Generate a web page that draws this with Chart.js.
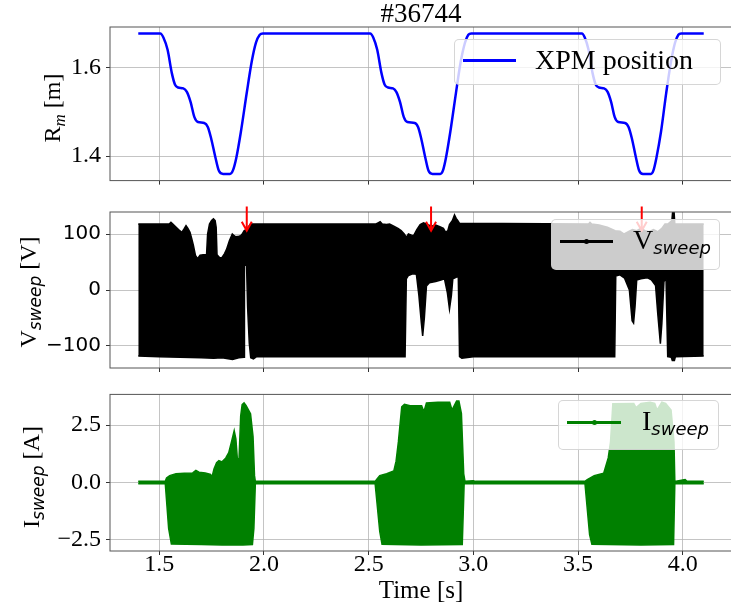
<!DOCTYPE html>
<html>
<head>
<meta charset="utf-8">
<script src="https://cdn.jsdelivr.net/npm/chart.js@4.4.1/dist/chart.umd.min.js"></script>
<style>
  html, body { margin: 0; padding: 0; background: #fff; }
  #fig { position: relative; width: 731px; height: 609px; overflow: hidden; font-family: "Liberation Serif", serif; color: #000; }
  #fig canvas { position: absolute; left: 0; }
  .title { position: absolute; left: 110px; width: 622px; top: 0; text-align: center; font-size: 27px; line-height: 27px; }
  .ylab { position: absolute; white-space: nowrap; font-size: 24px; line-height: 24px; transform: translate(-50%, -50%) rotate(-90deg); }
  .sub { position: relative; top: 5px; font-size: 17px; }
  .sub.it { font-style: italic; }
  .sub.ss { font-family: "DejaVu Sans", sans-serif; font-style: italic; }
  .leg { position: absolute; box-sizing: border-box; background: rgba(255,255,255,0.8); border: 1px solid rgba(204,204,204,0.8); border-radius: 5px; }
  .leg .line { position: absolute; height: 0; }
  .leg .dot { position: absolute; width: 5px; height: 5px; border-radius: 50%; }
  .leg .txt { position: absolute; white-space: nowrap; font-size: 28px; line-height: 28px; }
  .leg .txt .s { position: relative; top: 5px; font-family: "DejaVu Sans", sans-serif; font-style: italic; font-size: 18px; }
</style>
</head>
<body>
<div id="fig">
  <canvas id="c1" width="732" height="200" style="top:0px"></canvas>
  <canvas id="c2" width="732" height="190" style="top:195px"></canvas>
  <canvas id="c3" width="732" height="234" style="top:375px"></canvas>

  <div class="title">#36744</div>

  <div class="ylab" style="left:53px;top:108px">R<span class="sub it">m</span> [m]</div>
  <div class="ylab" style="left:29px;top:292px">V<span class="sub ss">sweep</span> [V]</div>
  <div class="ylab" style="left:32px;top:477px">I<span class="sub ss">sweep</span> [A]</div>

  <div class="leg" style="left:454px;top:39px;width:267px;height:46px">
    <div class="line" style="left:8px;top:19px;width:53px;border-top:3px solid #0000ff"></div>
    <div class="txt" style="left:80px;top:6px">XPM position</div>
  </div>
  <div class="leg" style="left:551px;top:219px;width:169px;height:51px">
    <div class="line" style="left:8px;top:20px;width:53px;border-top:3px solid #000"></div>
    <div class="dot" style="left:32px;top:19px;background:#000"></div>
    <div class="txt" style="left:81px;top:6px">V<span class="s">sweep</span></div>
  </div>
  <div class="leg" style="left:558px;top:400px;width:161px;height:50px">
    <div class="line" style="left:8px;top:20px;width:54px;border-top:3px solid #008000"></div>
    <div class="dot" style="left:33px;top:19px;background:#008000"></div>
    <div class="txt" style="left:83px;top:6px">I<span class="s">sweep</span></div>
  </div>
</div>

<script>
// time axis shared by the three panels
const xMin = 1.265;
const xMax = 4.235;
const xTicks = [1.5, 2.0, 2.5, 3.0, 3.5, 4.0];

// XPM position R_m [m]
const xpmTime = [
  1.400, 1.505, 1.520, 1.540, 1.560, 1.575, 1.590, 1.615, 1.632, 1.650, 1.668, 1.685, 1.715,
  1.732, 1.748, 1.767, 1.785, 1.805, 1.838, 1.852, 1.868, 1.890, 1.918, 1.942, 1.962, 1.980, 1.995,
  2.507, 2.522, 2.541, 2.561, 2.576, 2.593, 2.616, 2.632, 2.650, 2.668, 2.685, 2.720,
  2.736, 2.751, 2.769, 2.786, 2.805, 2.842, 2.855, 2.869, 2.890, 2.917, 2.940, 2.960, 2.976, 2.990,
  3.518, 3.532, 3.550, 3.569, 3.584, 3.600, 3.624, 3.641, 3.658, 3.675, 3.692, 3.724,
  3.741, 3.757, 3.775, 3.792, 3.810, 3.848, 3.860, 3.874, 3.896, 3.921, 3.944, 3.963, 3.979, 3.992,
  4.100
];
const xpmR = [
  1.677, 1.677, 1.668, 1.640, 1.588, 1.562, 1.555, 1.553, 1.545, 1.522, 1.488, 1.477, 1.475,
  1.466, 1.440, 1.400, 1.367, 1.360, 1.360, 1.368, 1.396, 1.455, 1.543, 1.614, 1.656, 1.674, 1.677,
  1.677, 1.668, 1.640, 1.588, 1.562, 1.555, 1.553, 1.545, 1.522, 1.488, 1.477, 1.475,
  1.466, 1.440, 1.400, 1.367, 1.360, 1.360, 1.368, 1.396, 1.455, 1.543, 1.614, 1.656, 1.674, 1.677,
  1.677, 1.668, 1.640, 1.588, 1.562, 1.555, 1.553, 1.545, 1.522, 1.488, 1.477, 1.475,
  1.466, 1.440, 1.400, 1.367, 1.360, 1.360, 1.368, 1.396, 1.455, 1.543, 1.614, 1.656, 1.674, 1.677,
  1.677
];

// V_sweep [V], upper and lower envelope of the sweep signal
const vUpTime = [
  1.400, 1.548, 1.556, 1.565, 1.576, 1.592, 1.608, 1.620, 1.628, 1.637, 1.647, 1.655, 1.663, 1.673,
  1.683, 1.695, 1.710, 1.726, 1.731, 1.740, 1.750, 1.759, 1.767, 1.772, 1.776, 1.790, 1.800, 1.812,
  1.821, 1.835, 1.849, 1.858, 1.865, 1.880, 1.889, 1.898, 1.906, 1.915, 1.925, 1.936,
  2.535, 2.545, 2.555, 2.565, 2.585, 2.600, 2.620, 2.640, 2.655, 2.670, 2.680, 2.690, 2.705, 2.715,
  2.730, 2.746, 2.762, 2.780, 2.800, 2.820, 2.840, 2.857, 2.868, 2.878, 2.886, 2.900, 2.910, 2.918,
  2.926, 2.934, 3.550, 3.557, 3.565, 3.600, 3.640, 3.677, 3.700, 3.720, 3.740, 3.760, 3.780, 3.800,
  3.820, 3.840, 3.860, 3.880, 3.900, 3.915, 3.930, 3.948, 3.952, 3.958, 3.962, 4.100
];
const vUp = [
  118, 118, 121, 118, 114, 108, 103, 110, 115, 110, 103, 92, 80, 62,
  56, 62, 63, 63, 100, 118, 124, 127, 124, 112, 63, 57, 58, 65,
  72, 88, 100, 97, 95, 96, 97, 101, 106, 108, 112, 118,
  118, 120, 122, 118, 117, 118, 114, 110, 106, 100, 94, 100, 98, 97,
  108, 117, 120, 117, 114, 116, 113, 110, 103, 106, 117, 124, 134, 128,
  124, 119, 118, 121, 118, 116, 112, 106, 105, 100, 104, 108, 106, 110,
  106, 104, 108, 104, 110, 118, 118, 124, 142, 142, 118, 118
];
const vLowTime = [
  1.400, 1.500, 1.600, 1.700, 1.760, 1.800, 1.850, 1.880, 1.905, 1.907, 1.917, 1.922, 1.930, 1.937,
  1.950, 1.965, 2.300, 2.674, 2.680, 2.690, 2.710, 2.728, 2.740, 2.752, 2.758, 2.766, 2.776, 2.790,
  2.820, 2.845, 2.862, 2.876, 2.886, 2.895, 2.902, 2.915, 2.928, 2.934, 2.945, 3.000, 3.675, 3.680,
  3.700, 3.722, 3.745, 3.758, 3.765, 3.772, 3.780, 3.800, 3.830, 3.850, 3.870, 3.880, 3.893, 3.900,
  3.910, 3.920, 3.928, 3.945, 3.950, 3.960, 3.965, 4.100
];
const vLow = [
  -118, -119, -120, -121, -122, -121, -124, -121, -120, 44, 44, -30, -95, -121,
  -123, -119, -119, -119, 20, 26, 29, 28, -10, -60, -82, -50, 7, 13,
  15, 18, 20, -5, -34, -10, 20, 22, 25, -119, -122, -119, -119, 25,
  27, 21, 0, -55, -59, -30, 18, 20, 22, 18, 8, -40, -96, -60,
  15, 20, -119, -120, -126, -126, -119, -118
];

// I_sweep [A], upper and lower envelope
const iUpTime = [
  1.400, 1.529, 1.535, 1.550, 1.580, 1.620, 1.660, 1.675, 1.690, 1.720, 1.745, 1.752, 1.762, 1.774,
  1.785, 1.800, 1.818, 1.832, 1.845, 1.858, 1.866, 1.873, 1.881, 1.889, 1.896, 1.905, 1.915, 1.936,
  1.948, 1.955, 1.959, 2.531, 2.540, 2.553, 2.586, 2.620, 2.631, 2.642, 2.658, 2.671, 2.698, 2.753,
  2.764, 2.776, 2.831, 2.887, 2.898, 2.920, 2.931, 2.943, 2.954, 2.960, 3.000, 3.010, 3.533, 3.544,
  3.577, 3.622, 3.644, 3.655, 3.666, 3.766, 3.777, 3.800, 3.844, 3.866, 3.877, 3.900, 3.918, 3.944,
  3.958, 3.962, 4.011, 4.020, 4.100
];
const iUp = [
  0.05, 0.05, 0.20, 0.30, 0.38, 0.40, 0.42, 0.53, 0.45, 0.42, 0.35, 0.24, 0.60, 0.86,
  0.95, 0.90, 1.07, 1.30, 1.77, 2.26, 1.90, 1.05, 1.00, 2.90, 3.40, 3.47, 3.35, 3.00,
  2.00, 0.30, 0.05, 0.05, 0.15, 0.30, 0.38, 0.50, 0.93, 1.77, 3.30, 3.41, 3.35, 3.35,
  3.09, 3.47, 3.50, 3.50, 3.16, 3.55, 3.55, 3.00, 0.38, 0.05, 0.08, 0.05, 0.05, 0.13,
  0.30, 0.40, 1.07, 1.77, 3.44, 3.45, 3.27, 3.45, 3.50, 3.45, 3.16, 3.50, 3.45, 3.16,
  1.77, 0.05, 0.13, 0.05, 0.05
];
const iLowTime = [
  1.400, 1.529, 1.545, 1.558, 1.700, 1.800, 1.900, 1.945, 1.952, 1.959, 2.531, 2.553, 2.564, 2.750,
  2.947, 2.956, 3.533, 3.555, 3.566, 3.800, 3.956, 3.962, 4.100
];
const iLow = [
  -0.05, -0.05, -2.00, -2.68, -2.70, -2.72, -2.72, -2.70, -2.00, -0.05, -0.05, -2.13, -2.69, -2.72,
  -2.70, -0.05, -0.05, -2.27, -2.69, -2.72, -2.70, -0.05, -0.05
];

// red arrows on the V_sweep panel
const arrowTime = [1.918, 2.798, 3.804];
const arrowFrom = [149, 149, 149];
const arrowTo = [106, 106, 106];

const serif = "Liberation Serif";
const gridColor = "rgba(176,176,176,0.75)";
const tickColor = "#333";

function toPts(xs, ys) {
  return xs.map((x, i) => ({ x: x, y: ys[i] }));
}

function minusSign(s) {
  return s.replace("-", "\u2212");
}

const frame = {
  id: "frame",
  afterDatasetsDraw(chart) {
    const { ctx, chartArea: a } = chart;
    ctx.save();
    ctx.strokeStyle = "#555";
    ctx.lineWidth = 1;
    ctx.strokeRect(a.left, a.top, a.right - a.left, a.bottom - a.top);
    ctx.restore();
  }
};

const arrows = {
  id: "arrows",
  afterDraw(chart) {
    const { ctx, scales: { x, y } } = chart;
    ctx.save();
    ctx.strokeStyle = "#ff0000";
    ctx.lineWidth = 2;
    arrowTime.forEach((t, i) => {
      const px = x.getPixelForValue(t);
      const y0 = y.getPixelForValue(arrowFrom[i]);
      const y1 = y.getPixelForValue(arrowTo[i]);
      ctx.beginPath();
      ctx.moveTo(px, y0);
      ctx.lineTo(px, y1);
      ctx.moveTo(px - 5, y1 - 9);
      ctx.lineTo(px, y1);
      ctx.lineTo(px + 5, y1 - 9);
      ctx.stroke();
    });
    ctx.restore();
  }
};

function bandSets(upT, up, lowT, low, color) {
  return [
    { data: toPts(upT, up), borderColor: color, borderWidth: 1.5, pointRadius: 0, tension: 0, fill: false },
    { data: toPts(lowT, low), borderColor: color, backgroundColor: color, borderWidth: 1.5, pointRadius: 0, tension: 0, fill: "-1" }
  ];
}

function makePanel(id, datasets, p) {
  return new Chart(document.getElementById(id), {
    type: "line",
    data: { datasets: datasets },
    options: {
      responsive: false,
      animation: false,
      events: [],
      layout: { padding: { top: p.padTop, left: 0, right: 0, bottom: 0 } },
      plugins: { legend: { display: false }, tooltip: { enabled: false }, title: { display: false } },
      scales: {
        x: {
          type: "linear",
          min: xMin,
          max: xMax,
          bounds: "data",
          afterBuildTicks: s => { s.ticks = xTicks.map(v => ({ value: v })); },
          afterFit: s => { s.height = p.xHeight; },
          border: { display: false },
          grid: { color: gridColor, lineWidth: 1, tickColor: tickColor, tickLength: 4 },
          ticks: {
            display: p.showX,
            autoSkip: false,
            maxRotation: 0,
            padding: -5,
            color: "#000",
            font: { family: serif, size: 24 },
            callback: v => v.toFixed(1)
          },
          title: {
            display: p.showX,
            text: "Time [s]",
            color: "#000",
            font: { family: serif, size: 25 },
            padding: { top: 0, bottom: 3 }
          }
        },
        y: {
          type: "linear",
          min: p.yMin,
          max: p.yMax,
          bounds: "data",
          afterBuildTicks: s => { s.ticks = p.yTicks.map(v => ({ value: v })); },
          afterFit: s => { s.width = 110; },
          border: { display: false },
          grid: { color: gridColor, lineWidth: 1, tickColor: tickColor, tickLength: 4 },
          ticks: {
            padding: 5,
            color: "#000",
            font: p.yFont,
            callback: p.yFmt
          }
        }
      }
    },
    plugins: [frame].concat(p.extra || [])
  });
}

makePanel("c1", [
  { data: toPts(xpmTime, xpmR), borderColor: "#0000ff", borderWidth: 2.5, pointRadius: 0, cubicInterpolationMode: "monotone", fill: false }
], {
  padTop: 27, xHeight: 11, showX: false,
  yMin: 1.3449, yMax: 1.6915, yTicks: [1.4, 1.6],
  yFont: { family: serif, size: 24 },
  yFmt: v => v.toFixed(1)
});

makePanel("c2", bandSets(vUpTime, vUp, vLowTime, vLow, "#000000"), {
  padTop: 12, xHeight: 15, showX: false,
  yMin: -139.3, yMax: 139.3, yTicks: [-100, 0, 100],
  yFont: { family: "DejaVu Sans", size: 20 },
  yFmt: v => minusSign(String(v)),
  extra: [arrows]
});

makePanel("c3", bandSets(iUpTime, iUp, iLowTime, iLow, "#008000"), {
  padTop: 12, xHeight: 58, showX: true,
  yMin: -2.986, yMax: 3.842, yTicks: [-2.5, 0, 2.5],
  yFont: { family: serif, size: 24 },
  yFmt: v => minusSign(v.toFixed(1))
});
</script>
</body>
</html>
